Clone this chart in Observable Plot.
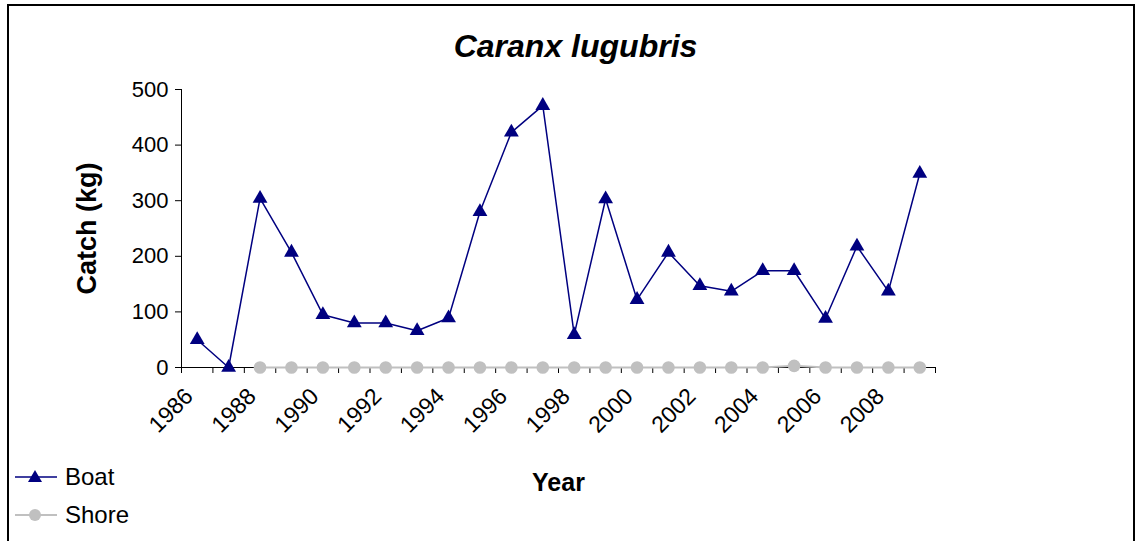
<!DOCTYPE html>
<html><head><meta charset="utf-8">
<script src="https://cdn.jsdelivr.net/npm/d3@7"></script>
<script src="https://cdn.jsdelivr.net/npm/@observablehq/plot@0.6"></script>
<style>
body{margin:0;background:#fff;font-family:"Liberation Sans",Arial,sans-serif;}
#wrap{position:relative;width:1137px;height:541px;overflow:hidden;background:#fff;}
#chart{position:absolute;left:0;top:0;}
#frame{position:absolute;left:7px;top:4px;width:1128px;height:600px;border:2px solid #000;box-sizing:border-box;pointer-events:none}
.lg{position:absolute;left:15px;display:flex;align-items:center;font-size:24px;color:#000;}
.lg svg{margin-right:8px;}
</style></head><body>
<div id="wrap"><div id="chart"></div><div id="frame"></div>
<div class="lg" style="top:462px"><svg width="42" height="30"><line x1="0" x2="42" y1="15" y2="15" stroke="#000080" stroke-width="1.5"/><path d="M20,8 L27,20 L13,20 Z" fill="#000080"/></svg><span>Boat</span></div>
<div class="lg" style="top:500px"><svg width="42" height="30"><line x1="0" x2="42" y1="15" y2="15" stroke="#c0c0c0" stroke-width="2"/><circle cx="20" cy="15" r="6" fill="#c0c0c0"/></svg><span>Shore</span></div>
</div>
<script>
const years = [1986,1987,1988,1989,1990,1991,1992,1993,1994,1995,1996,1997,1998,1999,2000,2001,2002,2003,2004,2005,2006,2007,2008,2009];
const boat  = [50,0,304,207,95,80,80,66,89,280,423,471,59,303,122,207,147,137,174,174,88,218,137,349];
const shoreYears = [1988,1989,1990,1991,1992,1993,1994,1995,1996,1997,1998,1999,2000,2001,2002,2003,2004,2005,2006,2007,2008,2009];
const shore = [0,0,0,0,0,0,0,0,0,0,0,0,0,0,0,0,0,3,0,0,0,0];
const yTicks = [0,100,200,300,400,500];
const xTickValues = [1986,1988,1990,1992,1994,1996,1998,2000,2002,2004,2006,2008];
const xTickLabels = ["1986","1988","1990","1992","1994","1996","1998","2000","2002","2004","2006","2008"];

const boatData = years.map((y,i)=>({year:y, v:boat[i]}));
const shoreData = shoreYears.map((y,i)=>({year:y, v:shore[i]}));
const bounds = years.map(y=>y-0.5).concat([years[years.length-1]+0.5]);

const plot = Plot.plot({
  width:1137, height:541, marginTop:89, marginBottom:174, marginLeft:181, marginRight:202,
  style:{fontFamily:"Liberation Sans, Arial, sans-serif", fontSize:"22px", color:"#000", background:"transparent", overflow:"visible"},
  x:{type:"linear", domain:[bounds[0], bounds[bounds.length-1]]},
  y:{domain:[0,500]},
  marks:[
    Plot.ruleX([bounds[0]], {stroke:"#000", strokeWidth:1}),
    Plot.ruleY([0], {stroke:"#000", strokeWidth:1}),
    Plot.axisY({ticks:yTicks, tickSize:6, tickPadding:7, label:null, fontSize:22}),
    Plot.axisX({ticks:bounds, tickSize:6, tickFormat:()=>"", label:null}),
    Plot.axisX({ticks:xTickValues, tickSize:0, tickRotate:-45, tickPadding:25, dx:-8, fontSize:23,
      tickFormat:d=>xTickLabels[xTickValues.indexOf(d)], label:null}),
    Plot.line(shoreData,{x:"year",y:"v",stroke:"#c0c0c0",strokeWidth:2}),
    Plot.dot(shoreData,{x:"year",y:"v",fill:"#c0c0c0",r:6.3}),
    Plot.line(boatData,{x:"year",y:"v",stroke:"#000080",strokeWidth:1.5}),
    Plot.dot(boatData,{x:"year",y:"v",symbol:"triangle",fill:"#000080",r:5.5}),
    Plot.text(["Caranx lugubris"], {frameAnchor:"top", lineAnchor:"middle", dy:-43, dx:17, fontSize:32, fontWeight:"bold", fontStyle:"italic"}),
    Plot.text(["Year"], {frameAnchor:"bottom", lineAnchor:"middle", dy:115, fontSize:25, fontWeight:"bold"}),
    Plot.text(["Catch (kg)"], {frameAnchor:"left", textAnchor:"middle", lineAnchor:"middle", dx:-94, rotate:-90, fontSize:27, fontWeight:"bold"})
  ]
});
document.getElementById("chart").appendChild(plot);
</script>
</body></html>
